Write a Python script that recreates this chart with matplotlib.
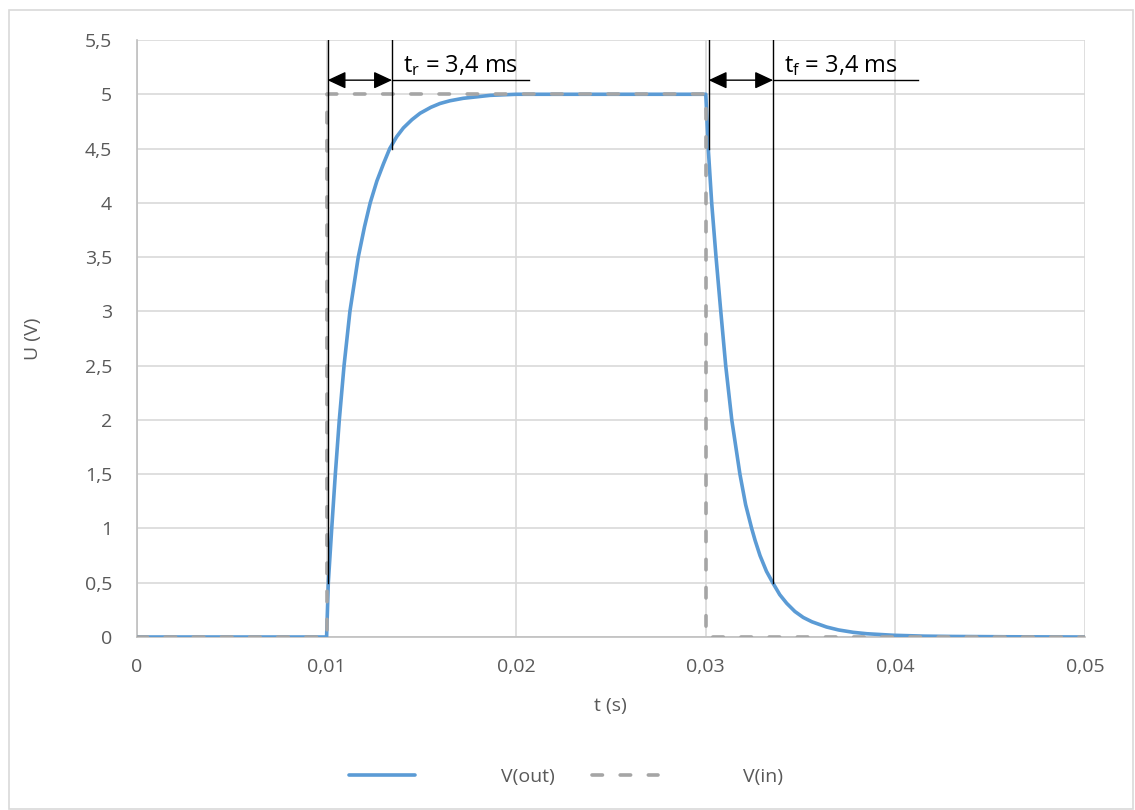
import numpy as np
import matplotlib.pyplot as plt
from matplotlib.patches import Rectangle
from matplotlib.ticker import FuncFormatter, MultipleLocator

plt.rcParams['font.family'] = ['Open Sans', 'DejaVu Sans']
plt.rcParams['mathtext.fontset'] = 'custom'
plt.rcParams['mathtext.rm'] = 'Open Sans'
plt.rcParams['mathtext.it'] = 'Open Sans:italic'

#------------------------------------
# V(out): rising edge (RC charge) and falling edge (discharge)
t_rise = [0.0, 0.0100, 0.01009, 0.01027, 0.01046, 0.01067, 0.01092, 0.01123,
          0.01167, 0.01200, 0.01230, 0.01265, 0.01300, 0.01333, 0.0137,
          0.01405, 0.0145, 0.01493, 0.0155, 0.01598, 0.0165, 0.01721,
          0.0180, 0.01862, 0.0200]
u_rise = [0.0, 0.0, 0.5, 1.0, 1.5, 2.0, 2.5, 3.0,
          3.5, 3.78, 4.0, 4.2, 4.36, 4.5, 4.61,
          4.69, 4.766, 4.825, 4.88, 4.915, 4.94, 4.963,
          4.978, 4.99, 5.0]

t_fall = [0.0300, 0.03013, 0.03031, 0.03054, 0.03079, 0.03105, 0.03137,
          0.0318, 0.0321, 0.03242, 0.0326, 0.03286, 0.0332, 0.03353,
          0.0339, 0.03427, 0.0347, 0.03514, 0.0356, 0.03637, 0.0370,
          0.03778, 0.0385, 0.03989, 0.0415, 0.0430, 0.0460, 0.0500]
u_fall = [5.0, 4.5, 4.0, 3.5, 3.0, 2.5, 2.0,
          1.5, 1.22, 1.0, 0.89, 0.75, 0.605, 0.5,
          0.39, 0.31, 0.235, 0.18, 0.14, 0.092, 0.065,
          0.043, 0.03, 0.016, 0.008, 0.005, 0.002, 0.0]

# V(in): square pulse
t_in = [0.0, 0.01, 0.01, 0.03, 0.03, 0.05]
u_in = [0.0, 0.0, 5.0, 5.0, 0.0, 0.0]

# rise / fall time markers
t_r = 0.0034
t_f = 0.0034
t_r_start = 0.01005
t_f_start = 0.03015

t_out = t_rise + t_fall
u_out = u_rise + u_fall

#------------------------------------
fig = plt.figure(figsize=(11.35, 8.1), dpi=100)
ax = fig.add_axes([137/1135, 1 - 637/810, (1085-137)/1135, (637-40)/810])

ax.plot(t_out, u_out, c='#5b9bd5', lw=2.6, solid_capstyle='round',
        solid_joinstyle='round', label='V(out)', zorder=3)
ax.plot(t_in, u_in, c='#a5a5a5', lw=2.6, ls=(0, (2.9, 4.9)), dash_capstyle='round',
        label='V(in)', zorder=4)

ax.set_xlim(0, 0.05)
ax.set_ylim(0, 5.5)
ax.xaxis.set_major_locator(MultipleLocator(0.01))
ax.yaxis.set_major_locator(MultipleLocator(0.5))
ax.xaxis.set_major_formatter(FuncFormatter(lambda v, p: ('%g' % round(v, 4)).replace('.', ',')))
ax.yaxis.set_major_formatter(FuncFormatter(lambda v, p: ('%g' % round(v, 2)).replace('.', ',')))
ax.grid(True, color='#d9d9d9', lw=1.2, zorder=0)
ax.set_axisbelow(True)
for s in ['top', 'right']:
    ax.spines[s].set_visible(False)
for s in ['left', 'bottom']:
    ax.spines[s].set_color('#bfbfbf')
    ax.spines[s].set_linewidth(1.2)
ax.tick_params(length=0, labelsize=14, labelcolor='#595959')
ax.tick_params(axis='y', pad=18)
ax.tick_params(axis='x', pad=15)
ax.set_xlabel('t (s)', fontsize=14, color='#595959')
ax.set_ylabel('U (V)', fontsize=14, color='#595959')
ax.xaxis.set_label_coords((610-137)/948, (637-697)/597)
ax.yaxis.set_label_coords((42-137)/948, 0.5)

# rise / fall time annotations
y_arr = 5.13
def mark(t0, dt, y_left, y_right, t_end, label):
    ax.plot([t0, t0], [y_left, 5.5], c='k', lw=1, zorder=5)
    ax.plot([t0 + dt, t0 + dt], [y_right, 5.5], c='k', lw=1, zorder=5)
    ax.plot([t0 + dt, t_end], [y_arr, y_arr], c='k', lw=1, zorder=5)
    ax.annotate('', xy=(t0 + dt, y_arr), xytext=(t0, y_arr),
                arrowprops=dict(arrowstyle='<|-|>,head_length=0.75,head_width=0.35',
                                color='k', lw=1, mutation_scale=15,
                                shrinkA=0, shrinkB=0), zorder=5)
    ax.text(t0 + dt + 0.0006, y_arr + 0.02, label, fontsize=17, color='k',
            ha='left', va='bottom')

mark(t_r_start, t_r, 0.5, 4.5, 0.0207,
     r'$\mathregular{t_r}$ = ' + ('%g' % (t_r * 1000)).replace('.', ',') + ' ms')
mark(t_f_start, t_f, 4.5, 0.5, 0.0412,
     r'$\mathregular{t_f}$ = ' + ('%g' % (t_f * 1000)).replace('.', ',') + ' ms')

leg = fig.legend(loc='center', bbox_to_anchor=(0.499, 1 - 777/810), ncol=2, frameon=False,
                 fontsize=14, handlelength=3.4, handletextpad=4.4, columnspacing=1.9)
for txt in leg.get_texts():
    txt.set_color('#595959')

# chart frame
fig.patches.append(Rectangle((9/1135, 1/810), 1124/1135, 799/810, transform=fig.transFigure,
                             fill=False, ec='#d9d9d9', lw=1.2))

plt.savefig('out.png', dpi=100)
